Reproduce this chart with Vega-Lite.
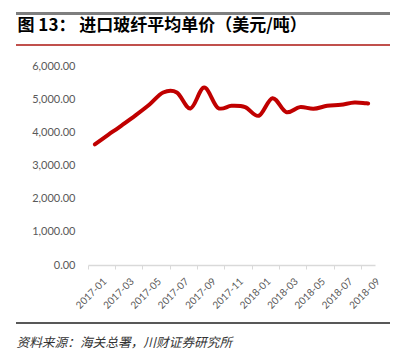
{
  "$schema": "https://vega.github.io/schema/vega-lite/v6.json",
  "width": 287,
  "height": 199,
  "autosize": {"type": "none"},
  "padding": {"left": 88, "top": 66, "right": 28, "bottom": 98},
  "background": "white",
  "config": {"view": {"stroke": null}},
  "data": {
    "values": [
      {"month": "2017-01", "price": 3640},
      {"month": "2017-02", "price": 3930},
      {"month": "2017-03", "price": 4220},
      {"month": "2017-04", "price": 4520},
      {"month": "2017-05", "price": 4840},
      {"month": "2017-06", "price": 5200},
      {"month": "2017-07", "price": 5200},
      {"month": "2017-08", "price": 4720},
      {"month": "2017-09", "price": 5350},
      {"month": "2017-10", "price": 4740},
      {"month": "2017-11", "price": 4800},
      {"month": "2017-12", "price": 4760},
      {"month": "2018-01", "price": 4500},
      {"month": "2018-02", "price": 5030},
      {"month": "2018-03", "price": 4610},
      {"month": "2018-04", "price": 4760},
      {"month": "2018-05", "price": 4710},
      {"month": "2018-06", "price": 4800},
      {"month": "2018-07", "price": 4830},
      {"month": "2018-08", "price": 4900},
      {"month": "2018-09", "price": 4870}
    ]
  },
  "layer": [
    {
      "mark": {"type": "rule", "color": "#7f7f7f", "strokeWidth": 2},
      "encoding": {"x": {"value": -72}, "x2": {"value": 302}, "y": {"value": -52.5}}
    },
    {
      "mark": {"type": "rule", "color": "#c0504d", "strokeWidth": 1},
      "encoding": {"x": {"value": -72}, "x2": {"value": 302}, "y": {"value": -21}}
    },
    {
      "mark": {"type": "rule", "color": "#595959", "strokeWidth": 1.5},
      "encoding": {"x": {"value": -72}, "x2": {"value": 302}, "y": {"value": 257}}
    },
    {
      "mark": {"type": "line", "color": "#c00000", "strokeWidth": 4, "interpolate": "cardinal", "strokeCap": "round", "strokeJoin": "round"},
      "encoding": {
        "x": {
          "field": "month",
          "type": "ordinal",
          "sort": null,
          "scale": {"type": "band", "paddingInner": 0, "paddingOuter": 0},
          "axis": {
            "values": ["2017-01", "2017-03", "2017-05", "2017-07", "2017-09", "2017-11", "2018-01", "2018-03", "2018-05", "2018-07", "2018-09"],
            "bandPosition": 0,
            "labelOffset": 6.8,
            "labelAngle": -45,
            "labelAlign": "right",
            "labelBaseline": "top",
            "labelPadding": 7,
            "labelFont": "Lato",
            "labelFontSize": 10,
            "labelColor": "#595959",
            "domainColor": "#d9d9d9",
            "domainWidth": 1.5,
            "tickColor": "#d9d9d9",
            "tickSize": 4,
            "tickWidth": 1,
            "title": "资料来源：海关总署，川财证券研究所",
            "titleX": -72,
            "titleY": 77,
            "titleAlign": "left",
            "titleAnchor": null,
            "titleBaseline": "middle",
            "titleFont": "Noto Sans CJK SC",
            "titleFontSize": 12.7,
            "titleFontStyle": "italic",
            "titleFontWeight": "normal",
            "titleColor": "#333333"
          }
        },
        "y": {
          "field": "price",
          "type": "quantitative",
          "scale": {"domain": [0, 6000], "nice": false},
          "axis": {
            "values": [0, 1000, 2000, 3000, 4000, 5000, 6000],
            "format": ",.2f",
            "domain": false,
            "ticks": false,
            "grid": false,
            "labelOverlap": false,
            "labelPadding": 13,
            "labelFont": "Lato",
            "labelFontSize": 11,
            "labelColor": "#595959",
            "title": "图 13：   进口玻纤平均单价（美元/吨）",
            "titleAngle": 0,
            "titleX": -71,
            "titleY": -36,
            "titleAlign": "left",
            "titleAnchor": null,
            "titleBaseline": "alphabetic",
            "titleFont": "Noto Sans CJK SC",
            "titleFontSize": 17,
            "titleFontWeight": "bold",
            "titleColor": "#000000"
          }
        }
      }
    }
  ]
}
